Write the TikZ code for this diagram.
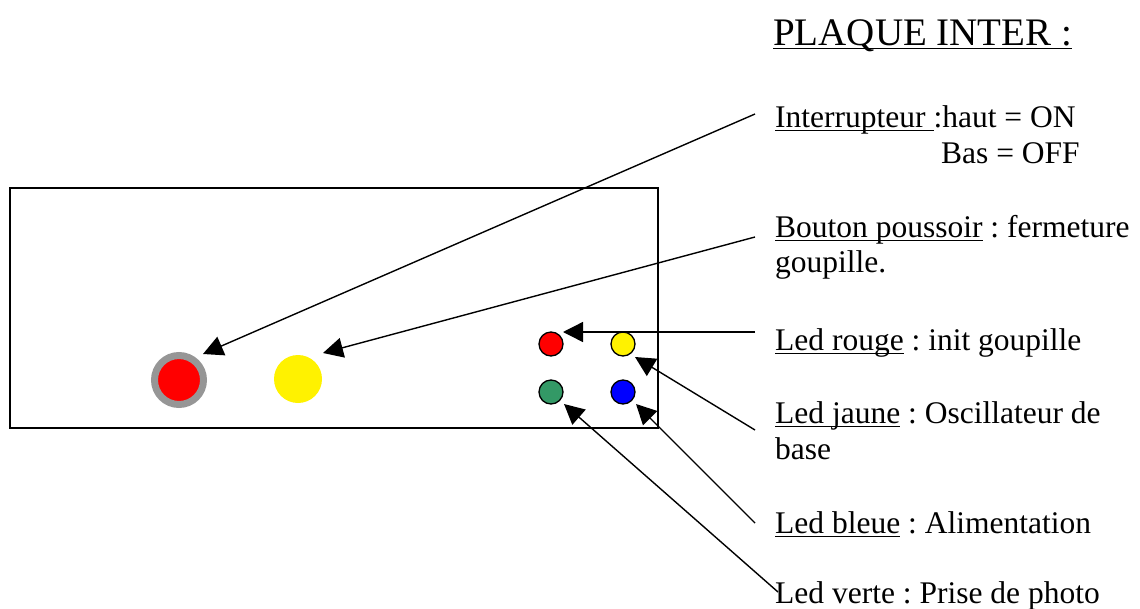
\documentclass[tikz,border=0pt]{standalone}
\usepackage{fontspec}
\setmainfont{Liberation Serif}
\usetikzlibrary{arrows.meta}
\newcommand{\myul}[1]{\setbox0\hbox{#1}\rlap{\vrule height -2.6pt depth 4.4pt width \wd0}\box0\relax}
\begin{document}
\frenchspacing
\begin{tikzpicture}[x=1pt,y=-1pt,
  lbl/.style={anchor=base west,inner sep=0pt,font=\fontsize{31.5}{36}\selectfont},
  ptr/.style={line width=1.4pt,-{Triangle[length=20pt,width=20pt]}},
  led/.style={circle,draw=black,line width=1.3pt,minimum size=24pt,inner sep=0pt},
  panel/.style={draw=black,line width=1.3pt}]
\useasboundingbox (0,0) rectangle (1140,608);
% panel
\draw[panel] (10,188) rectangle (658,428);
% big switch
\node[circle,fill=red,draw={rgb,255:red,150;green,150;blue,150},line width=7pt,minimum size=49pt,inner sep=0pt] (bigred) at (179,380) {};
\node[circle,fill=yellow,minimum size=48pt,inner sep=0pt] (bigyel) at (298,379) {};
% leds
\node[led,fill=red] (lr) at (551,344) {};
\node[led,fill=yellow] (lj) at (623,344) {};
\node[led,fill={rgb,255:red,51;green,153;blue,102}] (lv) at (551,392) {};
\node[led,fill=blue] (lb) at (623,392) {};
% labels
\node[lbl,font=\fontsize{39}{44}\selectfont] (title) at (773,45) {\myul{PLAQUE INTER :}};
\node[lbl] (t1) at (775,127) {\myul{Interrupteur }:haut = ON};
\node[lbl] (t1b) at (941,163) {Bas = OFF};
\node[lbl] (t2) at (775,237) {\myul{Bouton poussoir} : fermeture};
\node[lbl] (t2b) at (775,272) {goupille.};
\node[lbl] (t3) at (775,350) {\myul{Led rouge} : init goupille};
\node[lbl] (t4) at (775,423) {\myul{Led jaune} : Oscillateur de};
\node[lbl] (t4b) at (775,459) {base};
\node[lbl] (t5) at (775,533) {\myul{Led bleue} : Alimentation};
\node[lbl] (t6) at (775,603) {Led verte : Prise de photo};
% connector ends
\coordinate (s1) at (755,114);
\coordinate (e1) at (203,354);
\coordinate (s2) at (755,237);
\coordinate (e2) at (323,353);
\coordinate (s3) at (755,332);
\coordinate (e3) at (563,332);
\coordinate (s4) at (755,430);
\coordinate (e4) at (635,357);
\coordinate (s5) at (755,523);
\coordinate (e5) at (636,404);
\coordinate (s6) at (778,592);
\coordinate (e6) at (564,404);
\draw[ptr] (s1) -- (e1);
\draw[ptr] (s2) -- (e2);
\draw[ptr] (s3) -- (e3);
\draw[ptr] (s4) -- (e4);
\draw[ptr] (s5) -- (e5);
\draw[ptr] (s6) -- (e6);
\end{tikzpicture}
\end{document}
